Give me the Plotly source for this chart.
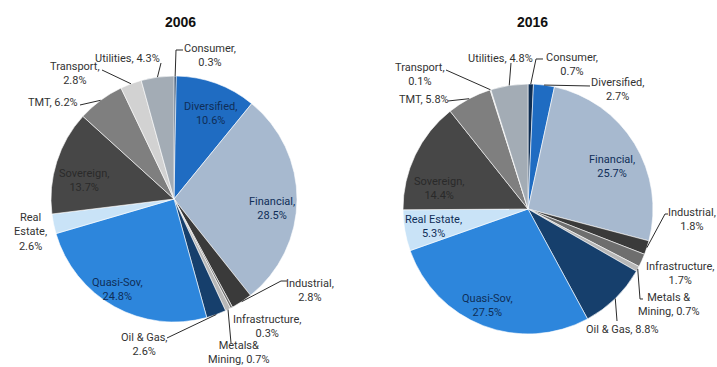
import math
import plotly.graph_objects as go

W, H = 717, 367

categories = ["Consumer", "Diversified", "Financial", "Industrial", "Infrastructure",
              "Metals & Mining", "Oil & Gas", "Quasi-Sov", "Real Estate", "Sovereign",
              "TMT", "Transport", "Utilities"]
values_2006 = [0.3, 10.6, 28.5, 2.8, 0.3, 0.7, 2.6, 24.8, 2.6, 13.7, 6.2, 2.8, 4.3]
values_2016 = [0.7, 2.7, 25.7, 1.8, 1.7, 0.7, 8.8, 27.5, 5.3, 14.4, 5.8, 0.1, 4.8]
years = ["2006", "2016"]

colors = ["#0e2d52", "#1f6cc2", "#a7b9cf", "#3a3a3a", "#6e6e6e", "#b8b8b8", "#163f6c",
          "#2d86dc", "#c9e3f7", "#474747", "#7f7f7f", "#d2d2d2", "#a3acb5"]

FONT = "Liberation Sans Narrow, Arial Narrow, Roboto, sans-serif"
TXT = "#333333"
NAVY = "#0f2e58"

# pie geometry (pixels)
geom = {"2006": dict(cx=174, cy=199, r=123), "2016": dict(cx=528, cy=209, r=125)}
title_pos = {"2006": (180, 22), "2016": (532, 22)}

# label layout: (category index, text template, x, y, color, leader points from label side)
labels = {
    "2006": [
        (0, "Consumer,<br>{v}%", 210, 55.5, TXT, [(183, 50), (176, 50)]),
        (12, "Utilities, {v}%", 127, 58, TXT, [(161, 63)]),
        (11, "Transport,<br>{v}%", 75, 73.5, TXT, [(102, 70)]),
        (10, "TMT, {v}%", 53, 102, TXT, [(80, 105)]),
        (1, "Diversified,<br>{v}%", 210, 113.5, NAVY, None),
        (9, "Sovereign,<br>{v}%", 84, 180.5, "#2a2a2a", None),
        (2, "Financial,<br>{v}%", 272, 208.5, NAVY, None),
        (8, "Real<br>Estate,<br>{v}%", 30, 231.5, TXT, None),
        (7, "Quasi-Sov,<br>{v}%", 117, 289, NAVY, None),
        (3, "Industrial,<br>{v}%", 310, 290, TXT, [(287, 281), (281, 281)]),
        (4, "Infrastructure,<br>{v}%", 267, 326, TXT, None),
        (5, "Metals&<br>Mining, {v}%", 239, 352.5, TXT, [(231, 343)]),
        (6, "Oil & Gas,<br>{v}%", 144, 344, TXT, [(167, 338)]),
    ],
    "2016": [
        (12, "Utilities, {v}%", 500, 58, TXT, [(511, 63)]),
        (0, "Consumer,<br>{v}%", 572, 64.5, TXT, [(543, 59), (536, 59)]),
        (1, "Diversified,<br>{v}%", 617, 89, TXT, [(590, 86)]),
        (11, "Transport,<br>{v}%", 420, 74.5, TXT, [(446, 70)]),
        (10, "TMT, {v}%", 424, 99, TXT, [(448, 101)]),
        (2, "Financial,<br>{v}%", 612, 166.5, NAVY, None),
        (9, "Sovereign,<br>{v}%", 439, 188, "#2a2a2a", None),
        (8, "Real Estate,<br>{v}%", 433, 226.5, NAVY, None),
        (7, "Quasi-Sov,<br>{v}%", 487, 305.5, NAVY, None),
        (3, "Industrial,<br>{v}%", 692, 219, TXT, [(668, 214), (665, 214)]),
        (4, "Infrastructure,<br>{v}%", 680, 273.5, TXT, None),
        (5, "Metals &<br>Mining, {v}%", 669, 304, TXT, [(643, 299), (640, 299)]),
        (6, "Oil & Gas, {v}%", 622, 329, TXT, [(617, 321)]),
    ],
}

series = {"2006": values_2006, "2016": values_2016}


def px(x, y):
    return x / W, 1 - y / H


fig = go.Figure()
annotations = []
shapes = []

for yr in years:
    vals = series[yr]
    g = geom[yr]
    cx, cy, r = g["cx"], g["cy"], g["r"]
    fig.add_trace(go.Pie(
        labels=categories, values=vals, sort=False, direction="clockwise", rotation=0,
        marker=dict(colors=colors, line=dict(color="white", width=0.6)),
        textinfo="none", hoverinfo="label+value", showlegend=False,
        domain=dict(x=[(cx - r) / W, (cx + r) / W], y=[1 - (cy + r) / H, 1 - (cy - r) / H]),
    ))
    tx, ty = title_pos[yr]
    ax, ay = px(tx, ty)
    annotations.append(dict(text="<b>" + yr + "</b>", x=ax, y=ay, xref="paper", yref="paper",
                            showarrow=False, xanchor="center", yanchor="middle",
                            font=dict(family="Liberation Sans, Arial, sans-serif", size=14, color="#111")))
    total = sum(vals)
    cum = [sum(vals[:i]) for i in range(len(vals))]
    for idx, tmpl, lx, ly, col, pts in labels[yr]:
        v = vals[idx]
        axp, ayp = px(lx, ly)
        annotations.append(dict(text=tmpl.format(v=v), x=axp, y=ayp, xref="paper", yref="paper",
                                showarrow=False, xanchor="center", yanchor="middle", align="center",
                                font=dict(family=FONT, size=11, color=col)))
        if pts:
            theta = 2 * math.pi * (cum[idx] + v / 2) / total
            ex = cx + r * math.sin(theta)
            ey = cy - r * math.cos(theta)
            allp = pts + [(ex, ey)]
            path = ""
            for k, (x, y) in enumerate(allp):
                pxx, pyy = px(x, y)
                path += ("M" if k == 0 else " L") + f" {pxx:.5f} {pyy:.5f}"
            shapes.append(dict(type="path", path=path, xref="paper", yref="paper",
                               line=dict(color="#2b2b2b", width=1)))

fig.update_layout(
    width=W, height=H, margin=dict(l=0, r=0, t=0, b=0),
    paper_bgcolor="white", plot_bgcolor="white",
    annotations=annotations, shapes=shapes,
)

fig.write_html("out.html")
